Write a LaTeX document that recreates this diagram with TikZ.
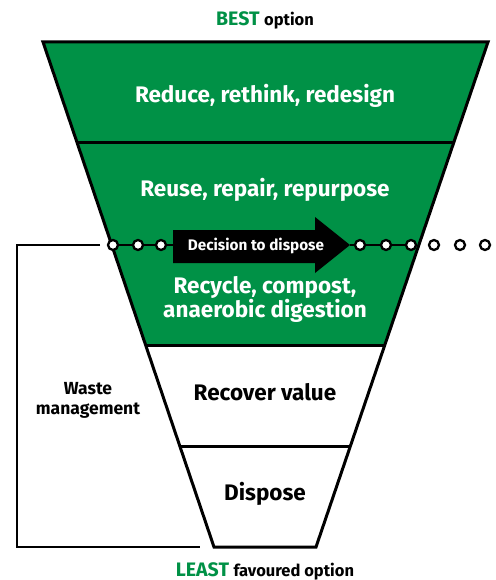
\documentclass[tikz,border=0pt]{standalone}
\usepackage{fontspec}
\setmainfont{Fira Sans}
\usetikzlibrary{calc}
\definecolor{wastegreen}{RGB}{0,145,70}
\begin{document}
\begin{tikzpicture}[x=1pt,y=-1pt,
  outline/.style={line width=3pt, line join=miter},
  bandtext/.style={font=\bfseries\fontsize{22.5}{24}\selectfont, align=center, inner sep=0pt},
  greentext/.style={bandtext, text=white},
  dot/.style={circle, draw=black, fill=white, line width=2.3pt, minimum size=10pt, inner sep=0pt},
  dotline/.style={line width=2pt},
  bracket/.style={line width=2pt},
  headtext/.style={font=\bfseries\fontsize{19.5}{22}\selectfont, inner sep=0pt, anchor=base}
]
\useasboundingbox (0,0) rectangle (495,580);

% funnel corners
\coordinate (TL) at (43,42);
\coordinate (TR) at (488,42);
\coordinate (BL) at (214,547);
\coordinate (BR) at (316,547);
% band boundaries along the slanted sides
\foreach \t/\n in {0.2/a,0.4/b,0.6/c,0.8/d}{
  \coordinate (L\n) at ($(TL)!\t!(BL)$);
  \coordinate (R\n) at ($(TR)!\t!(BR)$);
}

% green upper part
\fill[wastegreen] (TL) -- (TR) -- (Rc) -- (Lc) -- cycle;
\draw[outline] (La) -- (Ra);
\draw[outline] (Lc) -- (Rc);
\draw[outline] (Ld) -- (Rd);
\draw[outline] (TL) -- (TR) -- (BR) -- (BL) -- cycle;

% band labels
\node[greentext] (reduce) at (265,96) {Reduce, rethink, redesign};
\node[greentext] (reuse) at (265,190) {Reuse, repair, repurpose};
\node[greentext] (recycle) at (265,299) {Recycle, compost,\\anaerobic digestion};
\node[bandtext] (recover) at (265,392) {Recover value};
\node[bandtext] (dispose) at (265,494) {Dispose};

% decision arrow
\fill[black] (173,230) -- (315,230) -- (315,217) -- (350,245) -- (315,273)
  -- (315,263) -- (173,263) -- cycle;
\coordinate (tail) at (173,245);
\coordinate (tip) at (350,245);
\node[text=white, font=\bfseries\fontsize{15.3}{17}\selectfont, inner sep=0pt]
  (decision) at (256,246) {Decision to dispose};

% dotted decision line
\foreach \x [count=\i] in {113,138,161,360,386,411,434,460,485}
  \node[dot] (d\i) at (\x,245) {};
\draw[dotline] (d1) -- (d2) -- (d3) -- (tail);
\draw[dotline] (tip) -- (d4) -- (d5) -- (d6);

% waste management bracket
\coordinate (wtop) at (100,245);
\coordinate (wbot) at (200,547);
\draw[bracket] (wtop) -- (17,245) -- (17,547) -- (wbot);
\node[font=\bfseries\fontsize{17.5}{20}\selectfont, align=center, inner sep=0pt]
  (waste) at (88,400) {Waste\\management};

% top and bottom captions
\node[headtext] (best) at (265,26)
  {\textcolor{wastegreen}{BEST} {\fontsize{16.5}{18}\selectfont option}};
\node[headtext] (least) at (265,576)
  {\textcolor{wastegreen}{LEAST} {\fontsize{16.5}{18}\selectfont favoured option}};
\end{tikzpicture}
\end{document}
